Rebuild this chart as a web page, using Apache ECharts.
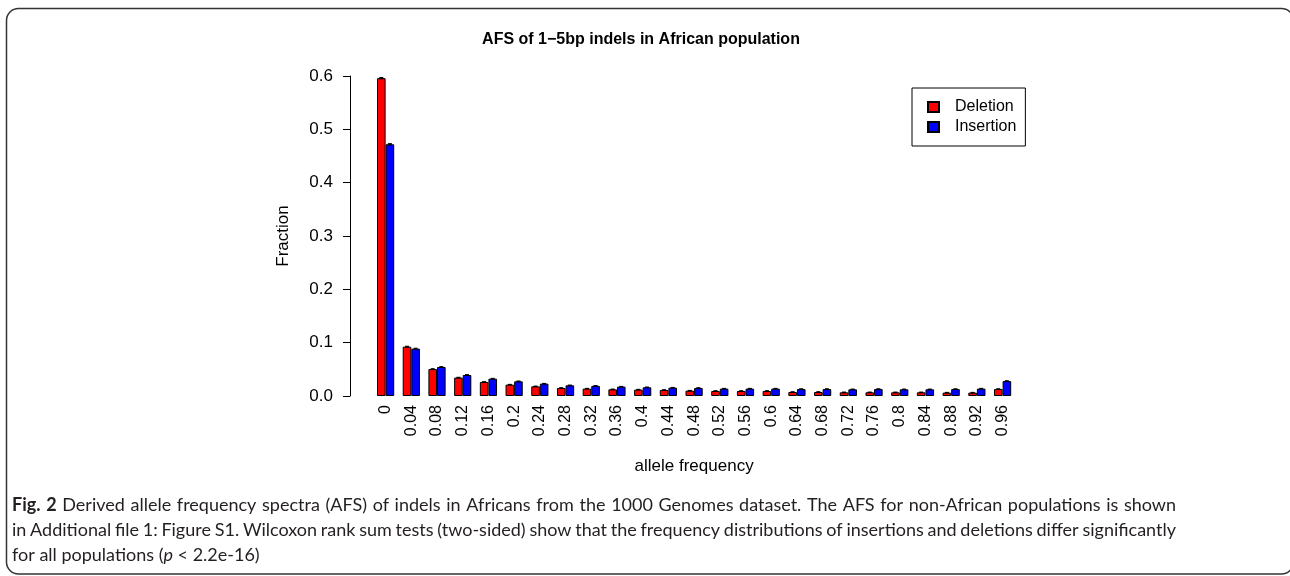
<!DOCTYPE html>
<html>
<head>
<meta charset="utf-8">
<script src="https://cdn.jsdelivr.net/npm/echarts@6/dist/echarts.min.js"></script>
<style>
html,body{margin:0;padding:0;background:#fff;}
#chart{width:1290px;height:576px;}
</style>
</head>
<body>
<div id="chart"></div>
<script>
const categories = ['0','0.04','0.08','0.12','0.16','0.2','0.24','0.28','0.32','0.36','0.4','0.44','0.48','0.52','0.56','0.6','0.64','0.68','0.72','0.76','0.8','0.84','0.88','0.92','0.96'];
const deletion = [0.596,0.0925,0.0505,0.0345,0.0263,0.0213,0.0181,0.015,0.0138,0.0125,0.012,0.0113,0.010,0.0094,0.0094,0.0094,0.0075,0.0075,0.0069,0.0069,0.0069,0.0069,0.0063,0.0063,0.013];
const insertion = [0.472,0.0888,0.0544,0.0394,0.0325,0.0275,0.0231,0.020,0.019,0.0175,0.0163,0.0156,0.015,0.0138,0.0138,0.0138,0.013,0.013,0.0125,0.013,0.0125,0.0125,0.013,0.0138,0.028];
const deletionErr = [0.0012,0.0008,0.0007,0.0006,0.0006,0.0005,0.0005,0.0005,0.0005,0.0005,0.0005,0.0005,0.0005,0.0005,0.0005,0.0005,0.0005,0.0005,0.0005,0.0005,0.0005,0.0005,0.0005,0.0005,0.0006];
const insertionErr = [0.0012,0.0008,0.0007,0.0006,0.0006,0.0006,0.0005,0.0005,0.0005,0.0005,0.0005,0.0005,0.0005,0.0005,0.0005,0.0005,0.0005,0.0005,0.0005,0.0005,0.0005,0.0005,0.0005,0.0005,0.0007];
const yTicks = [0, 0.1, 0.2, 0.3, 0.4, 0.5, 0.6];
const seriesNames = ['Deletion', 'Insertion'];
const titleText = 'AFS of 1\u22125bp indels in African population';
const captionLines = [
  '{b|Fig.} {b|2} Derived allele frequency spectra (AFS) of indels in Africans from the 1000 Genomes dataset. The AFS for non-African populations is shown',
  'in Additional file 1: Figure S1. Wilcoxon rank sum tests (two-sided) show that the frequency distributions of insertions and deletions differ significantly',
  'for all populations ({i|p} < 2.2e-16)'
];

const FONT = '"Liberation Sans", Arial, sans-serif';
const CAPFONT = 'Lato, "Open Sans", sans-serif';
const CAPSIZE = 18;
const CAPCOLOR = '#231f20';
const BARW = 8.6;

function errSeries(vals, errs, dir) {
  return {
    type: 'custom',
    silent: true,
    z: 5,
    data: vals.map((v, i) => [i, v, errs[i]]),
    renderItem: function (params, api) {
      const idx = api.value(0), v = api.value(1), e = api.value(2);
      const top = api.coord([idx, v + e]);
      const bot = api.coord([idx, v - e]);
      const x = top[0] + dir * BARW / 2;
      const w = 2;
      return {
        type: 'group',
        children: [
          {type: 'line', shape: {x1: x, y1: top[1], x2: x, y2: bot[1]}, style: {stroke: '#000', lineWidth: 1}},
          {type: 'line', shape: {x1: x - w, y1: top[1], x2: x + w, y2: top[1]}, style: {stroke: '#000', lineWidth: 1}},
          {type: 'line', shape: {x1: x - w, y1: bot[1], x2: x + w, y2: bot[1]}, style: {stroke: '#000', lineWidth: 1}}
        ]
      };
    }
  };
}

const richStyles = {
  b: {fontFamily: CAPFONT, fontSize: CAPSIZE, fontWeight: 'bold', fill: CAPCOLOR},
  i: {fontFamily: CAPFONT, fontSize: CAPSIZE, fontStyle: 'italic', fill: CAPCOLOR}
};

// justified caption lines: measure words and spread them between left and right margins
const measureCtx = document.createElement('canvas').getContext('2d');
function wordWidth(raw) {
  const m = raw.match(/^\{([bi])\|(.*)\}$/);
  let font = CAPSIZE + 'px ' + CAPFONT, txt = raw;
  if (m) {
    txt = m[2];
    font = (m[1] === 'b' ? 'bold ' : 'italic ') + font;
  }
  measureCtx.font = font;
  return measureCtx.measureText(txt).width;
}
function captionGraphics() {
  const out = [];
  const left = 12, right = 1176, top0 = 496, lh = 25;
  captionLines.forEach((line, li) => {
    const top = top0 + li * lh;
    const base = {fontFamily: CAPFONT, fontSize: CAPSIZE, fill: CAPCOLOR, rich: richStyles};
    if (li === captionLines.length - 1) {
      out.push({type: 'text', silent: true, left: left, top: top, style: Object.assign({text: line}, base)});
      return;
    }
    const words = line.split(' ');
    const widths = words.map(wordWidth);
    const total = widths.reduce((a, b) => a + b, 0);
    const gap = (right - left - total) / (words.length - 1);
    let x = left;
    words.forEach((w, wi) => {
      out.push({type: 'text', silent: true, left: x, top: top, style: Object.assign({text: w}, base)});
      x += widths[wi] + gap;
    });
  });
  return out;
}

const chart = echarts.init(document.getElementById('chart'), null, {renderer: 'canvas'});
chart.setOption({
  animation: false,
  backgroundColor: '#fff',
  title: {
    text: titleText,
    left: 636,
    textAlign: 'center',
    top: 27,
    textStyle: {fontFamily: FONT, fontSize: 16, fontWeight: 'bold', color: '#000'}
  },
  legend: {
    data: seriesNames,
    orient: 'vertical',
    left: 912,
    top: 88,
    padding: [10, 9, 10, 15],
    itemGap: 2,
    itemWidth: 11,
    itemHeight: 10,
    icon: 'rect',
    borderColor: '#000',
    borderWidth: 1,
    borderRadius: 0,
    selectedMode: false,
    textStyle: {fontFamily: FONT, fontSize: 16, color: '#000', lineHeight: 18, padding: [0, 0, 0, 11]}
  },
  grid: {left: 372.75, right: 274.55, top: 76, bottom: 180, containLabel: false},
  xAxis: {
    type: 'category',
    data: categories,
    boundaryGap: true,
    axisLine: {show: false},
    axisTick: {show: false},
    axisLabel: {rotate: 90, interval: 0, margin: 9, fontFamily: FONT, fontSize: 16, color: '#000'},
    name: 'allele frequency',
    nameLocation: 'middle',
    nameGap: 62,
    nameTextStyle: {fontFamily: FONT, fontSize: 17, color: '#000'}
  },
  yAxis: {
    type: 'value',
    min: 0,
    max: 0.6,
    interval: 0.1,
    offset: 22.75,
    splitLine: {show: false},
    axisLine: {show: true, lineStyle: {color: '#000', width: 1}},
    axisTick: {show: true, length: 7, lineStyle: {color: '#000'}},
    axisLabel: {margin: 17, fontFamily: FONT, fontSize: 17, color: '#000',
      formatter: v => yTicks.includes(Math.round(v * 10) / 10) ? v.toFixed(1) : ''},
    name: 'Fraction',
    nameLocation: 'middle',
    nameGap: 58,
    nameTextStyle: {fontFamily: FONT, fontSize: 17, color: '#000'}
  },
  series: [
    {name: seriesNames[0], type: 'bar', data: deletion, barWidth: BARW, barGap: '0%',
     itemStyle: {color: '#ff0000', borderColor: '#000', borderWidth: 1}},
    {name: seriesNames[1], type: 'bar', data: insertion, barWidth: BARW, barGap: '0%',
     itemStyle: {color: '#0000ff', borderColor: '#000', borderWidth: 1}},
    errSeries(deletion, deletionErr, -1),
    errSeries(insertion, insertionErr, 1)
  ],
  graphic: [
    {type: 'rect', silent: true, z: 100,
     shape: {x: 6.5, y: 8.5, width: 1287, height: 565.5, r: 12},
     style: {fill: null, stroke: '#333', lineWidth: 1.5}},
    ...captionGraphics()
  ]
});
</script>
</body>
</html>
